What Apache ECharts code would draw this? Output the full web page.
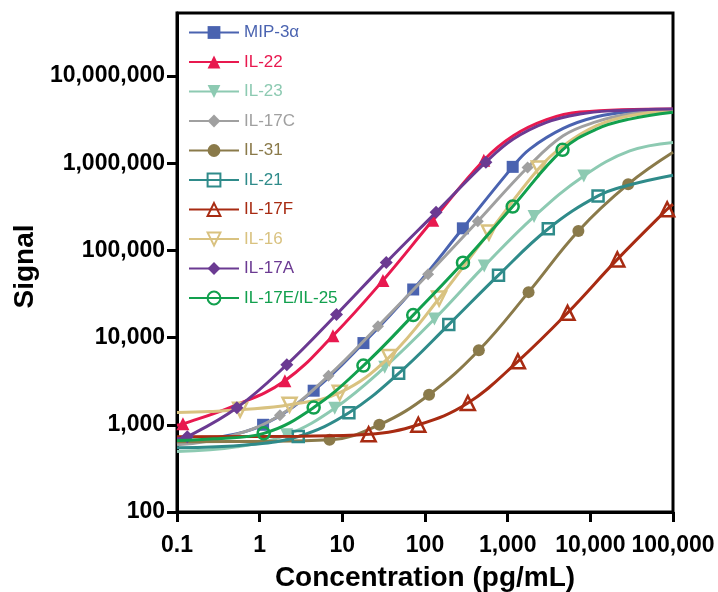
<!DOCTYPE html>
<html>
<head>
<meta charset="utf-8">
<script src="https://cdn.jsdelivr.net/npm/echarts@6/dist/echarts.min.js"></script>
<style>html,body{margin:0;padding:0;background:#fff}#c{width:718px;height:592px}</style>
</head>
<body>
<div id="c"></div>
<script>
// ---- data ----
var seriesNames = ['MIP-3α','IL-22','IL-23','IL-17C','IL-31','IL-21','IL-17F','IL-16','IL-17A','IL-17E/IL-25'];
var xTickValues = [0.1, 1, 10, 100, 1000, 10000, 100000];
var yTickValues = [100, 1000, 10000, 100000, 1000000, 10000000];

// measured points (shown with markers) [concentration, signal]
var mip3a_pts = [[1.1,1000],[4.5,2460],[18,8650],[72,35600],[287,179000],[1150,907000]];
var il22_pts  = [[0.118,1026],[2.02,3200],[7.7,10500],[31,45200],[124,221000],[515,1082000]];
var il23_pts  = [[2.12,767],[8.1,1549],[32.6,4580],[130,16300],[521,66000],[2085,244000],[8340,714000]];
var il17c_pts = [[1.76,1286],[6.8,3640],[27,13500],[109,53300],[435,215500],[1740,893000]];
var il31_pts  = [[7,672],[28,1000],[112,2213],[448,7150],[1790,33200],[7170,167000],[28700,574000]];
var il21_pts  = [[2.93,734],[12,1374],[48,3890],[194,14100],[775,52000],[3100,177000],[12400,421000]];
var il17f_pts = [[20.8,778],[83,1000],[330,1776],[1330,5340],[5300,19200],[21200,78800],[85000,296000]];
var il16_pts  = [[0.58,1487],[2.3,1698],[9.3,2333],[37,5970],[148,28100],[594,160000],[2380,869000]];
var il17a_pts = [[0.133,728],[0.53,1567],[2.13,4890],[8.5,18400],[34,72800],[136,273000],[545,1026000]];
var il17e_pts = [[1.12,798],[4.5,1577],[18,4770],[72,18100],[288,72200],[1150,318000],[4610,1422000]];

// fitted-curve points read off the picture beyond/between markers (no marker)
var mip3a_curve = [[0.1,612],[0.28,700],[1850,1450000],[4700,2500000],[11900,3400000],[30000,3890000],[100000,4100000]];
var il22_curve  = [[0.1,990],[0.49,1650],[1170,2060000],[2950,3150000],[7460,3850000],[100000,4180000]];
var il23_curve  = [[0.1,495],[0.53,560],[30000,1380000],[100000,1730000]];
var il17c_curve = [[0.1,589],[0.44,740],[4690,2060000],[11900,2990000],[30000,3660000],[100000,4070000]];
var il31_curve  = [[0.1,640],[1,645],[100000,1330000]];
var il21_curve  = [[0.1,545],[0.73,590],[28700,558000],[100000,728000]];
var il17f_curve = [[0.1,730],[3,740],[100000,338000]];
var il16_curve  = [[0.1,1385],[0.25,1420],[4690,1580000],[11900,2690000],[30000,3500000],[100000,3990000]];
var il17a_curve = [[0.1,690],[1170,1890000],[2950,2940000],[7460,3660000],[18900,3990000],[100000,4180000]];
var il17e_curve = [[0.1,660],[0.28,690],[11900,2460000],[30000,3200000],[100000,3830000]];

// ---- styles ----
var FONT = "'Liberation Sans', Arial, Helvetica, sans-serif";
var styles = [
  {color:'#4a63b0', symbol:'rect', size:12, fill:true},
  {color:'#e8194f', symbol:'triangle', size:13, fill:true},
  {color:'#8dcab2', symbol:'triangle', size:13, fill:true, rot:180},
  {color:'#a0a0a0', symbol:'diamond', size:12, fill:true},
  {color:'#8a7a4a', symbol:'circle', size:12, fill:true},
  {color:'#2f8b8a', symbol:'rect', size:11, fill:false},
  {color:'#a82b12', symbol:'triangle', size:14, fill:false},
  {color:'#d9c280', symbol:'triangle', size:14, fill:false, rot:180},
  {color:'#6b3a92', symbol:'diamond', size:13, fill:true},
  {color:'#12a04e', symbol:'circle', size:12, fill:false}
];
var ptsList = [mip3a_pts, il22_pts, il23_pts, il17c_pts, il31_pts, il21_pts, il17f_pts, il16_pts, il17a_pts, il17e_pts];
var curveList = [mip3a_curve, il22_curve, il23_curve, il17c_curve, il31_curve, il21_curve, il17f_curve, il16_curve, il17a_curve, il17e_curve];

function fmt(v){
  var n = Number(Number(v).toPrecision(6));
  return n.toLocaleString('en-US', {maximumFractionDigits: 3});
}

var series = seriesNames.map(function(name, i){
  var st = styles[i];
  var data = [];
  ptsList[i].forEach(function(p){ data.push({value:[p[0],p[1]]}); });
  curveList[i].forEach(function(p){ data.push({value:[p[0],p[1]], symbol:'none'}); });
  data.sort(function(a,b){ return a.value[0]-b.value[0]; });
  return {
    name: name,
    type: 'line',
    smooth: 0.4,
    symbol: st.symbol,
    symbolSize: st.size,
    symbolRotate: st.rot || 0,
    showSymbol: true,
    showAllSymbol: true,
    lineStyle: {color: st.color, width: 3},
    itemStyle: st.fill ? {color: st.color, borderWidth: 0}
                       : {color: 'rgba(255,255,255,0)', borderColor: st.color, borderWidth: 2.5},
    emphasis: {disabled: true},
    z: 2 + i,
    data: data
  };
});

var chart = echarts.init(document.getElementById('c'), null, {renderer: 'canvas'});
chart.setOption({
  animation: false,
  backgroundColor: '#fff',
  textStyle: {fontFamily: FONT},
  grid: {left: 177, right: 45, top: 13, bottom: 80, outerBoundsMode: 'none', containLabel: false,
         show: true, borderColor: '#000', borderWidth: 3, backgroundColor: 'transparent'},
  legend: {
    orient: 'vertical',
    left: 183, top: 19,
    itemWidth: 50, itemHeight: 16, itemGap: 12.5,
    textStyle: {fontSize: 17, fontFamily: FONT},
    data: seriesNames.map(function(n, i){ return {name: n, textStyle: {color: styles[i].color}}; })
  },
  xAxis: {
    type: 'log', logBase: 10, min: 0.1, max: 100000,
    name: 'Concentration (pg/mL)', nameLocation: 'middle', nameGap: 52,
    nameTextStyle: {fontSize: 28, fontWeight: 'bold', color: '#000', fontFamily: FONT},
    axisLine: {show: true, lineStyle: {color: '#000', width: 3}},
    axisTick: {show: true, length: 10, lineStyle: {color: '#000', width: 3}, customValues: xTickValues},
    axisLabel: {fontSize: 23, fontWeight: 'bold', color: '#000', margin: 22, fontFamily: FONT, customValues: xTickValues, formatter: fmt},
    splitLine: {show: false}, minorTick: {show: false}
  },
  yAxis: {
    type: 'log', logBase: 10, min: 100, max: 52700000,
    name: 'Signal', nameLocation: 'middle', nameGap: 138, nameRotate: 90,
    nameTextStyle: {fontSize: 28, fontWeight: 'bold', color: '#000', fontFamily: FONT, padding: [0, 8, 0, 0]},
    axisLine: {show: true, lineStyle: {color: '#000', width: 3}},
    axisTick: {show: true, length: 10, lineStyle: {color: '#000', width: 3}, customValues: yTickValues},
    axisLabel: {fontSize: 23, fontWeight: 'bold', color: '#000', margin: 12, fontFamily: FONT, customValues: yTickValues, formatter: fmt},
    splitLine: {show: false}, minorTick: {show: false}
  },
  series: series
});
</script>
</body>
</html>
